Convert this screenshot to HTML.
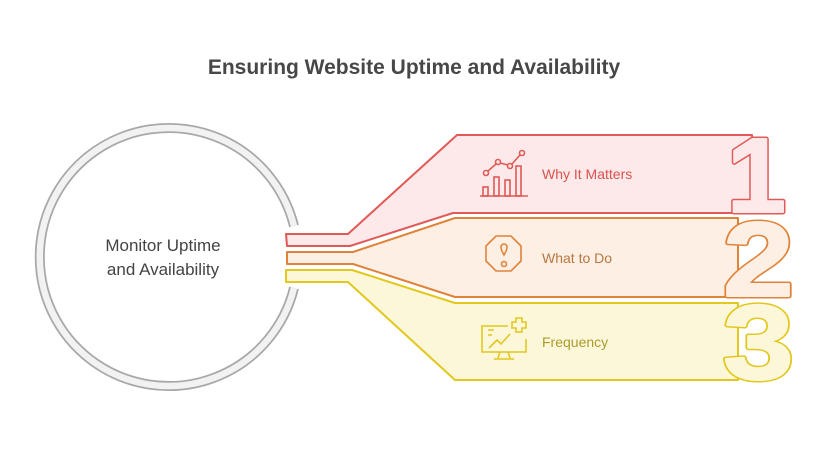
<!DOCTYPE html>
<html><head><style>body{margin:0;background:#fff}svg{display:block}</style></head><body>
<svg width="828" height="456" viewBox="0 0 828 456" xmlns="http://www.w3.org/2000/svg" font-family="Liberation Sans, sans-serif">
<text x="414" y="74" text-anchor="middle" font-size="21" font-weight="bold" fill="#474747">Ensuring Website Uptime and Availability</text>
<!-- ring -->
<path d="M294,226 A129,129 0 1 0 294,288" fill="none" stroke="#a8a8a8" stroke-width="10"/>
<path d="M294,226 A129,129 0 1 0 294,288" fill="none" stroke="#f2f2f2" stroke-width="6.5"/>
<circle cx="169" cy="257" r="123" fill="#fff"/>
<text x="163" y="251" text-anchor="middle" font-size="17" fill="#444">Monitor Uptime</text>
<text x="163" y="275" text-anchor="middle" font-size="17" fill="#444">and Availability</text>
<!-- red -->
<path d="M286,234 L348,234 L457,135 L752,135 L752,213 L453,213 L350,246 L287,246 Z" fill="#fde9e9" stroke="#e05a58" stroke-width="2" stroke-linejoin="round"/>
<g transform="translate(727,212) scale(1.0,1)" font-size="106" font-weight="bold" font-family="Liberation Sans, sans-serif">
<text x="0" y="0" fill="#e05a58" stroke="#e05a58" stroke-width="5" stroke-linejoin="round">1</text>
<text x="0" y="0" fill="#fde9e9" stroke="#fde9e9" stroke-width="2" stroke-linejoin="round">1</text></g>
<!-- orange -->
<path d="M287,252 L353,252 L455,218 L738,218 L738,297 L455,297 L353,264 L287,264 Z" fill="#fdefe3" stroke="#e0833a" stroke-width="2" stroke-linejoin="round"/>
<g transform="translate(723,296) scale(1.2,1)" font-size="106" font-weight="bold" font-family="Liberation Sans, sans-serif">
<text x="0" y="0" fill="#e0833a" stroke="#e0833a" stroke-width="5" stroke-linejoin="round">2</text>
<text x="0" y="0" fill="#fdefe3" stroke="#fdefe3" stroke-width="2" stroke-linejoin="round">2</text></g>
<!-- yellow -->
<path d="M286,270 L352,270 L455,303 L738,303 L738,380 L455,380 L348,282 L286,282 Z" fill="#fdf7d9" stroke="#e2c81e" stroke-width="2" stroke-linejoin="round"/>
<g transform="translate(723,379) scale(1.2,1)" font-size="106" font-weight="bold" font-family="Liberation Sans, sans-serif">
<text x="0" y="0" fill="#e2c81e" stroke="#e2c81e" stroke-width="5" stroke-linejoin="round">3</text>
<text x="0" y="0" fill="#fdf7d9" stroke="#fdf7d9" stroke-width="2" stroke-linejoin="round">3</text></g>
<!-- labels -->
<text x="542" y="179" font-size="14" fill="#d9534f">Why It Matters</text>
<text x="542" y="263" font-size="14" fill="#b87740">What to Do</text>
<text x="542" y="347" font-size="14" fill="#a99c2c">Frequency</text>
<!-- icon 1 -->
<g fill="none" stroke="#e05a58" stroke-width="1.6">
<line x1="480" y1="196" x2="528" y2="196"/>
<rect x="483" y="187" width="5" height="9"/><rect x="494" y="177" width="5" height="19"/><rect x="505" y="180" width="5" height="16"/><rect x="516" y="166" width="5" height="30"/>
<circle cx="486" cy="173" r="2.5"/><circle cx="498" cy="162" r="2.5"/><circle cx="510" cy="166" r="2.5"/><circle cx="522" cy="153" r="2.5"/>
<path d="M488,171 L496,164 M500,163 L508,165 M512,164 L520,155"/>
</g>
<!-- icon 2 -->
<g fill="none" stroke="#e0833a" stroke-width="1.6">
<polygon points="496,236 511,236 521,246 521,261 511,271 496,271 486,261 486,246"/>
<path d="M501,247 a3,3 0 1 1 6,0 q0,3 -3,8 q-3,-5 -3,-8 Z"/>
<circle cx="504" cy="264" r="2.5"/>
</g>
<!-- icon 3 -->
<g fill="none" stroke="#e2c81e" stroke-width="1.6">
<path d="M508,326 L482,326 L482,352 L526,352 L526,339"/>
<path d="M512,322 h4 v-4 h6 v4 h4 v6 h-4 v4 h-6 v-4 h-4 Z"/>
<path d="M488,330 h6 M488,335 h4 M489,348 L497,340 L501,344 L510,334"/>
<path d="M500,352 L498,358 M508,352 L510,358 M494,359 h20"/>
</g>
</svg>
</body></html>
